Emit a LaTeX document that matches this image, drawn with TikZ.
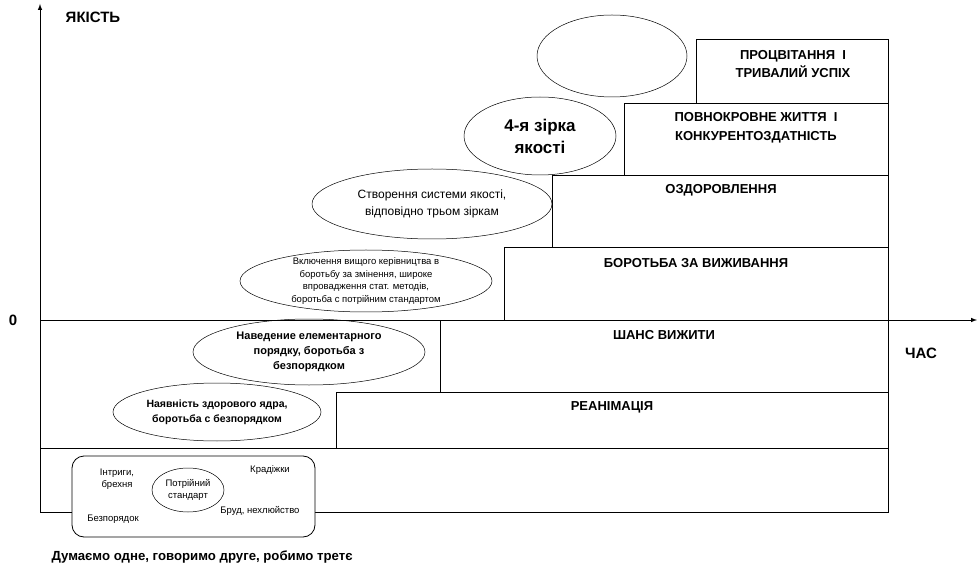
\documentclass[tikz,border=0pt]{standalone}
\usepackage{fontspec}
\setmainfont{Liberation Sans}
\usetikzlibrary{shapes.geometric}

\begin{document}
\begin{tikzpicture}[x=1pt,y=-1pt,
  etap/.style={font=\bfseries\fontsize{13}{18}\selectfont, align=center},
  zirka/.style={draw, ellipse, line width=0.5pt, inner sep=0pt, align=center},
  dribno/.style={font=\fontsize{9.5}{11.5}\selectfont, align=center}]
\useasboundingbox (0,0) rectangle (977,585);
 \coordinate (bot) at (40,512) ;
 \coordinate (top) at (40,4) ;
 \coordinate (o) at (40,320) ;
 \coordinate (end) at (977,320) ;
\draw[line width=1pt] (40,448) rectangle (888,512) ;
\draw[line width=1pt] (336,392) rectangle (888,448) ;
\draw[line width=1pt] (440,320) rectangle (888,392) ;
\draw[line width=1pt] (504,248) rectangle (888,320) ;
\draw[line width=1pt] (552,176) rectangle (888,248) ;
\draw[line width=1pt] (624,104) rectangle (888,176) ;
\draw[line width=1pt] (696,40) rectangle (888,104) ;
\draw[line width=1pt, -latex] (bot) -- (top) ;
\draw[line width=1pt, -latex] (o) -- (end) ;
 \node[font=\bfseries\fontsize{15}{18}\selectfont] (yakist) at (93,17) {ЯКІСТЬ} ;
 \node[font=\bfseries\fontsize{15}{18}\selectfont] (nul) at (13,320) {0} ;
 \node[font=\bfseries\fontsize{15}{18}\selectfont] (chas) at (921,353) {ЧАС} ;
 \node[etap] (proc) at (793,64) {ПРОЦВІТАННЯ \ І\\ТРИВАЛИЙ УСПІХ} ;
 \node[etap, font=\bfseries\fontsize{13}{19}\selectfont] (povn) at (756,128) {ПОВНОКРОВНЕ ЖИТТЯ \ І\\КОНКУРЕНТОЗДАТНІСТЬ} ;
 \node[etap] (ozd) at (721,190) {ОЗДОРОВЛЕННЯ} ;
 \node[etap] (borot) at (696,263) {БОРОТЬБА ЗА ВИЖИВАННЯ} ;
 \node[etap] (shans) at (664,335) {ШАНС ВИЖИТИ} ;
 \node[etap] (rean) at (612,407) {РЕАНІМАЦІЯ} ;
 \node[zirka, minimum width=150pt, minimum height=82pt] (pusta) at (612,56) {} ;
 \node[zirka, minimum width=152pt, minimum height=78pt, font=\bfseries\fontsize{17}{22}\selectfont] (zirka4) at (540,136) {4-я зірка\\якості} ;
 \node[zirka, minimum width=240pt, minimum height=70pt, font=\fontsize{12}{17}\selectfont] (systema) at (432,204) {Створення системи якості,\\відповідно трьом зіркам} ;
 \node[zirka, minimum width=252pt, minimum height=62pt, inner ysep=-5pt, font=\fontsize{9.5}{12.5}\selectfont] (kerivn) at (366,281) {Включення вищого керівництва в\\боротьбу за змінення, широке\\впровадження стат. методів,\\боротьба с потрійним стандартом} ;
 \node[zirka, minimum width=232pt, minimum height=66pt, font=\bfseries\fontsize{11}{15}\selectfont] (poriad) at (309,352) {Наведение елементарного\\порядку, боротьба з\\безпорядком} ;
 \node[zirka, minimum width=208pt, minimum height=58pt, font=\bfseries\fontsize{10.5}{15}\selectfont] (yadro) at (217,412) {Наявність здорового ядра,\\боротьба с безпорядком} ;
 \node[draw, line width=0.8pt, fill=white, rounded corners=12pt, minimum width=243pt, minimum height=81pt] (bezlad) at (193.5,496.5) {} ;
 \node[zirka, minimum width=72pt, minimum height=44pt, dribno] (standart) at (188,490) {Потрійний\\стандарт} ;
 \node[dribno] (intryhy) at (117,479) {Інтриги,\\брехня} ;
 \node[dribno] (kradizhky) at (270,470) {Крадіжки} ;
 \node[dribno] (bezporiadok) at (113,519) {Безпорядок} ;
 \node[dribno] (brud) at (260,511) {Бруд, нехлюйство} ;
 \node[anchor=west, font=\bfseries\fontsize{13.2}{15}\selectfont] (dumaiemo) at (48,557) {Думаємо одне, говоримо друге, робимо третє} ;
\end{tikzpicture}
\end{document}
